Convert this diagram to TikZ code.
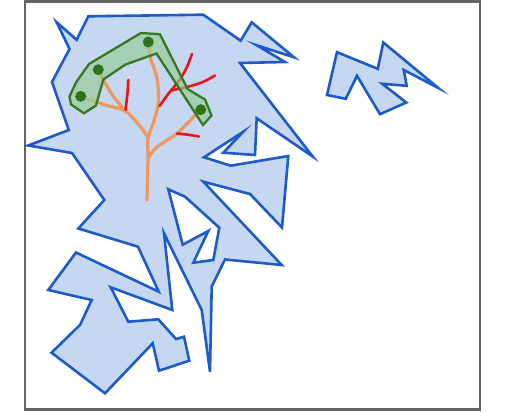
\documentclass[tikz,border=0pt]{standalone}
\begin{document}
\begin{tikzpicture}[x=1pt,y=-1pt,line join=miter,
  polystyle/.style={draw={rgb,255:red,30;green,90;blue,200},fill={rgb,255:red,198;green,215;blue,242},line width=2.6pt,even odd rule},
  framestyle/.style={draw={rgb,255:red,100;green,100;blue,100},line width=2.2pt},
  orangebranch/.style={draw={rgb,255:red,240;green,150;blue,95},line width=3.2pt,line cap=round},
  redbranch/.style={draw={rgb,255:red,232;green,20;blue,24},line width=2.6pt,line cap=round},
  greenzone/.style={draw={rgb,255:red,55;green,120;blue,35},fill={rgb,255:red,150;green,205;blue,150},fill opacity=0.65,line width=2.3pt},
  dotstyle/.style={circle,fill={rgb,255:red,45;green,115;blue,25},inner sep=0pt,minimum size=11pt}]
\useasboundingbox (0,0) rectangle (507,412);
\draw[framestyle] (25,1.5) rectangle (480,409.5);
% main polygon with hole
\path[polystyle] (88.3,16.3) -- (203.3,14.7) -- (240.7,40.7) -- (251.7,22.3) -- (294,57.3) -- (256.7,45.3) -- (285,62) -- (240,63) -- (312.7,156.5) -- (256.7,118.3) -- (255,155) -- (223.3,152.7) -- (243.3,131.7) -- (204,157.3) -- (230.7,165.7) -- (288.3,156) -- (282,227.5) -- (250,194) -- (203.3,181.7) -- (281.7,265) -- (225,259.5) -- (211.7,286.5) -- (210,371.7) -- (201.7,310) -- (164,233.3) -- (172.3,310) -- (110.7,287.3) -- (128.3,321.7) -- (158.3,319.3) -- (176,339) -- (184,336.7) -- (189.3,360.7) -- (159,370.7) -- (152.7,343.3) -- (105,393.3) -- (51.5,352.7) -- (80,325) -- (91.7,300) -- (48.3,290) -- (76,252.5) -- (158.7,291.7) -- (138,246.7) -- (78.3,228.5) -- (104.3,200) -- (72,153) -- (28.3,145.5) -- (68.8,130) -- (52,82) -- (69.5,49) -- (56.7,22.3) -- (76.7,39.8) -- cycle
  (168.3,189.3) -- (185,196.7) -- (219.3,227.7) -- (213.3,260) -- (193.3,262.7) -- (208.3,231) -- (182.7,244.7) -- cycle;
% small polygon
\path[polystyle] (337,52.2) -- (377.8,68.8) -- (383.3,42.5) -- (438.3,88) -- (403.8,70) -- (406.7,85.8) -- (382.2,83.8) -- (406.3,102.5) -- (380,114.2) -- (357,75.8) -- (345.8,98.8) -- (327,95) -- cycle;
% tree
\draw[orangebranch] plot[smooth,tension=0.5] coordinates {(147,200) (148,158) (148,138) (154,121) (158.5,102) (157,78) (150.5,58) (148.3,42)};
\draw[orangebranch] plot[smooth,tension=0.5] coordinates {(148,158) (157,147) (177,133.5) (192,118.5) (200.7,109.7)};
\draw[orangebranch] plot[smooth,tension=0.5] coordinates {(148,138) (141.5,128) (126,111.5) (104,104.5) (80.7,96.3)};
\draw[orangebranch] plot[smooth,tension=0.5] coordinates {(126,111.5) (113,96) (103.5,80) (98.3,69.7)};
\draw[redbranch] plot[smooth,tension=0.5] coordinates {(125.5,110) (127.3,95) (128.3,80)};
\draw[redbranch] plot[smooth,tension=0.5] coordinates {(159.5,106) (169,93) (179.5,80) (186.5,68) (192,54)};
\draw[redbranch] plot[smooth,tension=0.5] coordinates {(171,90.5) (187,87) (203,82) (215,75.5)};
\draw[redbranch] plot[smooth,tension=0.5] coordinates {(177,133.5) (188,134.7) (199,136.5)};
% green zone
\path[greenzone] (141,33) -- (160,34.3) -- (187.5,89) -- (205,99.5) -- (211.5,115.5) -- (203,125) -- (156.5,53.5) -- (125.5,64.5) -- (103.3,79.5) -- (96,105.5) -- (84,113.3) -- (71,104.5) -- (69.5,96.5) -- (76,82.5) -- (89,64) -- cycle;
\node[dotstyle] (d1) at (80.7,96.3) {};
\node[dotstyle] (d2) at (98.3,69.7) {};
\node[dotstyle] (d3) at (148.3,42) {};
\node[dotstyle] (d4) at (200.7,109.7) {};
\end{tikzpicture}
\end{document}
